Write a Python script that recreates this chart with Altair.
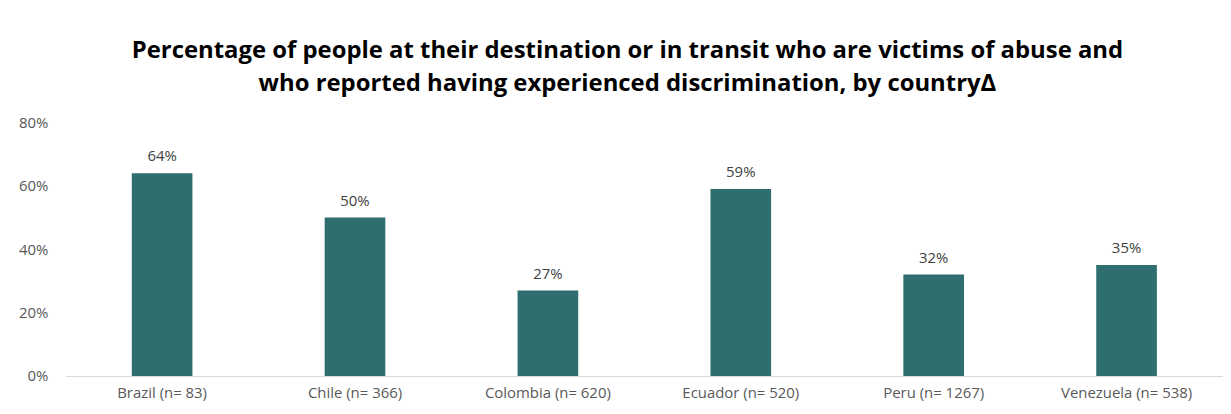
import altair as alt
import pandas as pd

countries = ["Brazil (n= 83)", "Chile (n= 366)", "Colombia (n= 620)",
             "Ecuador (n= 520)", "Peru (n= 1267)", "Venezuela (n= 538)"]
values = [0.64, 0.50, 0.27, 0.59, 0.32, 0.35]
y_ticks = [0, 0.2, 0.4, 0.6, 0.8]
title_lines = ["Percentage of people at their destination or in transit who are victims of abuse and",
               "who reported having experienced discrimination, by country\u0394"]

df = pd.DataFrame({"country": countries, "value": values})

FONT = "Open Sans"
p_inner = 1 - 61 / 194

x = alt.X("country:N", sort=countries, title=None,
          scale=alt.Scale(paddingInner=p_inner, paddingOuter=p_inner / 2),
          axis=alt.Axis(labelAngle=0, labelFont=FONT, labelFontSize=15, labelColor="#595959",
                        labelPadding=10, ticks=False, domainColor="#d9d9d9", domainWidth=1.2))
y = alt.Y("value:Q", title=None,
          scale=alt.Scale(domain=[0, 0.8], nice=False),
          axis=alt.Axis(values=y_ticks, format=".0%", labelFont=FONT, labelFontSize=15,
                        labelColor="#595959", labelPadding=18, ticks=False, domain=False,
                        grid=False))

bars = alt.Chart(df).mark_bar(color="#2f6e6e").encode(x=x, y=y)
labels = alt.Chart(df).mark_text(baseline="bottom", dy=-9, font=FONT, fontSize=15,
                                 color="#404040").encode(
    x=alt.X("country:N", sort=countries), y="value:Q", text=alt.Text("value:Q", format=".0%"))

chart = (bars + labels).properties(
    width=1164, height=255,
    title=alt.TitleParams(title_lines, font=FONT, fontSize=24, fontWeight="bold", color="#000000",
                          anchor="middle", dx=-17, offset=20, lineHeight=33),
    autosize=alt.AutoSizeParams(type="none"),
    padding={"left": 58, "top": 114, "right": 0, "bottom": 30},
).configure_view(stroke=None)

chart.save("out.html", embed_options={"renderer": "svg", "actions": False})
